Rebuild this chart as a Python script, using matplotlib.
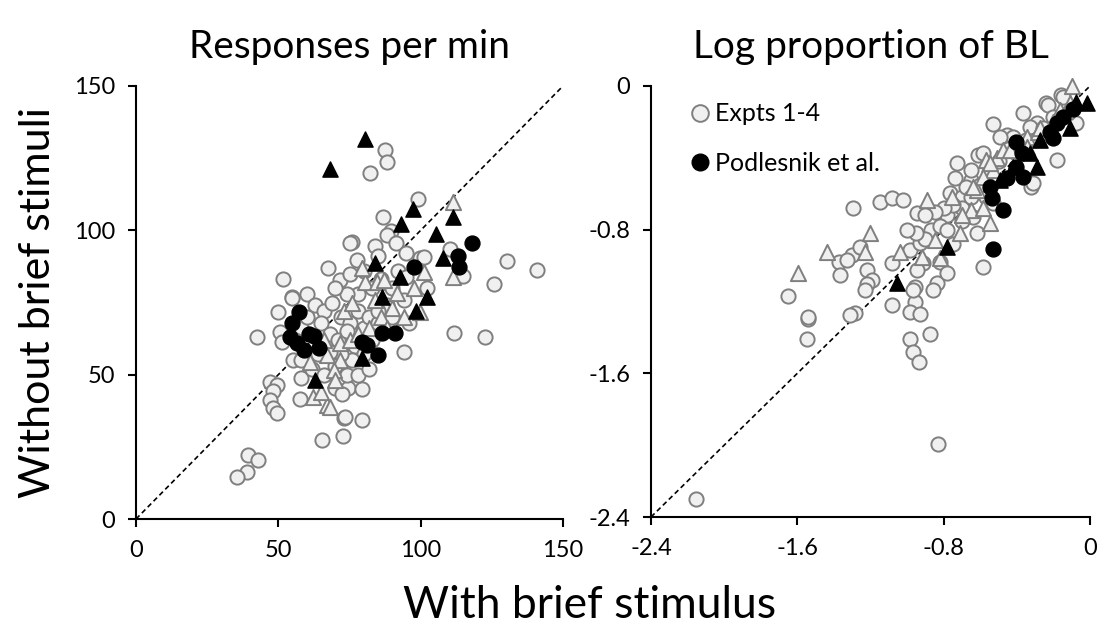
import matplotlib
matplotlib.use("Agg")
import matplotlib.pyplot as plt
from matplotlib.lines import Line2D

plt.rcParams['font.family'] = ['Lato', 'DejaVu Sans']

# ---------------- Left panel: responses per min ----------------
left_gray_circles_x = [87.5, 88.3, 82.2, 98.9, 86.9, 89.5, 88.3, 91.4, 75.8, 75.2, 84, 110.4, 99.8, 101, 130.3, 140.8,
                       115, 125.9, 102.4, 77.6, 51.8, 67.4, 71.5, 54.7, 88.1, 111.8, 122.7, 94.2, 70, 74.6, 79.3, 72.3,
                       73.1, 79.5, 72.6, 65.3, 42.4, 50, 54.7, 50.6, 51.2, 47.1, 49.5, 48, 47.1, 48.3, 49.5, 39.5, 42.9,
                       38.9, 35.4, 57.9, 57.6, 73.5,
                       60, 63, 66, 69, 72, 75, 78, 80, 82, 85, 88, 90, 92, 95, 83, 86, 78, 74, 70, 65, 68, 71, 74, 77,
                       80, 83, 76, 72, 68, 64, 62, 66, 70, 74, 78, 82, 58, 56, 60, 55, 58, 85, 90, 94, 96, 75, 80, 85, 95]
left_gray_circles_y = [128, 123.5, 120, 111, 104.7, 99.6, 98.4, 95.5, 95.8, 95.7, 94.7, 93.5, 90.3, 90.9, 89.5, 86.2,
                       84.2, 81.4, 79.9, 89.7, 83, 86.8, 82.8, 77, 71.2, 64.6, 63.1, 58, 45.3, 45.3, 44.9, 43.3,
                       35.1, 34.3, 28.9, 27.5, 63.1, 71.8, 76.4, 64.9, 61.4, 47.6, 46.4, 44.4, 41.2, 38.3, 36.6, 22.2, 20.4,
                       16.4, 14.6, 48.7, 41.7, 35.4,
                       78, 74, 72, 75, 70, 68, 72, 66, 70, 68, 74, 80, 86, 84, 80, 83, 78, 78, 80, 68, 64, 62, 65, 60,
                       57, 62, 55, 57, 58, 57, 52, 50, 53, 50, 50, 52, 66, 62, 70, 55, 55, 72, 70, 76, 68, 85, 86, 91, 92]
left_gray_tri_x = [111.3, 101.3, 111.2, 97.5, 99.8, 62.1, 67.2, 68.2, 80.5, 84.6, 87, 79.3, 91.6, 71.5, 71.5, 69.4,
                   61.2, 67, 75, 78, 82, 86, 88, 73, 76, 84, 90, 66, 94, 65, 70]
left_gray_tri_y = [109.9, 85.7, 83.9, 79.9, 71.8, 42.4, 39.5, 38.9, 82.2, 82.2, 82.8, 86.8, 78.2, 60.8, 55.1, 51.6,
                   54.5, 56.8, 62, 64, 66, 70, 66, 72, 75, 76, 73, 62, 70, 44, 48]
left_black_circles_x = [118, 113, 113.6, 97.6, 86.4, 91, 79.3, 81.3, 85, 57.4, 54.9, 54.1, 56.5, 59.1, 60.6, 62.5, 64.4]
left_black_circles_y = [95.5, 91, 87.2, 87.2, 64.5, 64.3, 61.4, 60.3, 56.8, 71.8, 67.8, 63.1, 60.8, 58.5, 64.2, 63.5, 59.4]
left_black_tri_x = [68.2, 80.5, 97.2, 111.3, 93.1, 105.4, 108, 84, 92.8, 86.4, 102.2, 98.4, 79.5, 62.9]
left_black_tri_y = [121.2, 131.8, 107.3, 104.7, 102.2, 98.7, 90.3, 88.8, 83.7, 77, 76.8, 72.2, 55.7, 48.1]
left_ticks = [0, 50, 100, 150]

# ---------------- Right panel: log proportion of BL ----------------
right_gray_circles_x = [-2.154, -1.65, -1.544, -1.549, -1.54, -1.371, -1.367, -1.303, -1.294, -1.285, -1.313, -1.33,
                        -1.258, -1.221, -1.194, -1.22, -1.23, -1.149, -1.085, -1.021, -1.085, -1.085, -0.985, -0.912,
                        -0.948, -0.957, -0.93, -0.948, -0.839, -0.821, -0.784, -0.784, -0.957, -0.985, -0.93, -0.872,
                        -0.985, -0.97, -0.934, -0.83, -0.97, -0.86, -0.766, -0.702, -0.739, -0.729, -0.648, -0.639,
                        -0.62, -0.584, -0.611, -0.53, -0.584, -0.648, -0.566, -0.53, -0.456, -0.42, -0.493, -0.369,
                        -0.292, -0.329, -0.256, -0.32, -0.311, -0.183, -0.238, -0.229, -0.156, -0.147, -0.074, -0.2,
                        -0.12, -0.45, -0.5, -0.55, -0.6, -0.68, -0.7, -0.75, -0.8, -0.85, -0.9, -0.87, -0.82, -0.78,
                        -0.9, -0.95, -1.0, -0.75, -0.7, -0.65, -0.4, -0.35, -0.3, -0.26]
right_gray_circles_y = [-2.3, -1.169, -1.297, -1.409, -1.284, -0.978, -1.052, -0.941, -0.681, -1.266, -1.275, -0.969,
                        -0.895, -1.025, -1.08, -1.10, -1.136, -0.644, -0.625, -0.635, -0.987, -1.219, -0.913, -0.987,
                        -1.025, -1.117, -0.876, -0.709, -1.099, -0.978, -1.043, -0.718, -1.201, -1.257, -1.27, -1.381,
                        -1.411, -1.479, -1.535, -1.995, -1.136, -1.136, -0.597, -0.616, -0.514, -0.43, -0.523, -0.728,
                        -0.82, -1.006, -0.384, -0.21, -0.375, -0.468, -0.616, -0.653, -0.273, -0.282, -0.282, -0.152,
                        -0.208, -0.226, -0.236, -0.561, -0.542, -0.412, -0.096, -0.106, -0.05, -0.06, -0.208, -0.17,
                        -0.15, -0.35, -0.42, -0.48, -0.55, -0.56, -0.68, -0.66, -0.68, -0.7, -0.72, -0.8, -0.78, -0.8,
                        -0.85, -0.82, -0.8, -0.88, -0.75, -0.62, -0.38, -0.3, -0.3, -0.28]
right_gray_tri_x = [-0.096, -1.44, -1.595, -1.203, -1.231, -0.893, -0.757, -0.648, -0.584, -0.548, -0.712, -0.848,
                    -1.039, -0.821, -0.566, -0.511, -0.53, -0.475, -0.62, -0.347, -0.283, -0.274, -0.165, -0.11,
                    -0.347, -0.438, -0.548, -0.584, -0.639, -0.92, -0.7, -0.2]
right_gray_tri_y = [0.0, -0.922, -1.043, -0.82, -0.922, -0.635, -0.616, -0.69, -0.681, -0.764, -0.82, -0.857,
                    -0.922, -0.959, -0.412, -0.403, -0.468, -0.356, -0.579, -0.282, -0.254, -0.236, -0.134, -0.096,
                    -0.338, -0.356, -0.43, -0.505, -0.561, -0.95, -0.72, -0.2]
right_black_circles_x = [-0.147, -0.092, -0.183, -0.22, -0.202, -0.402, -0.374, -0.402, -0.456, -0.548, -0.538,
                         -0.475, -0.53, -0.365]
right_black_circles_y = [-0.171, -0.13, -0.208, -0.254, -0.291, -0.31, -0.375, -0.449, -0.514, -0.561, -0.625,
                         -0.69, -0.909, -0.505]
right_black_tri_x = [-0.019, -0.074, -0.11, -0.274, -0.292, -0.42, -0.784, -1.057, -0.329, -0.493]
right_black_tri_y = [-0.096, -0.087, -0.236, -0.3, -0.449, -0.449, -0.895, -1.099, -0.375, -0.523]
right_ticks = [-2.4, -1.6, -0.8, 0]
right_tick_labels = ['-2.4', '-1.6', '-0.8', '0']

titles = ["Responses per min", "Log proportion of BL"]
xlabel = "With brief stimulus"
ylabel = "Without brief stimuli"
legend_labels = ["Expts 1-4", "Podlesnik et al."]

GRAY_FACE = '#f0f0f0'
GRAY_EDGE = '#7f7f7f'

fig = plt.figure(figsize=(11.02, 6.37), dpi=100)
axL = fig.add_axes([136/1102, 1-519/637, (563-136)/1102, (519-86)/637])
axR = fig.add_axes([651/1102, 1-517/637, (1090-651)/1102, (517-86)/637])


def draw(ax, gcx, gcy, gtx, gty, bcx, bcy, btx, bty, lim, ticks, labels, title):
    ax.plot([lim[0], lim[1]], [lim[0], lim[1]], ls=(0, (3, 2)), color='black', lw=1.2, zorder=1)
    ax.scatter(gcx, gcy, s=105, marker='o', facecolor=GRAY_FACE, edgecolor=GRAY_EDGE, linewidth=1.4,
               zorder=2, clip_on=False)
    ax.scatter(gtx, gty, s=120, marker='^', facecolor=GRAY_FACE, edgecolor=GRAY_EDGE, linewidth=1.4,
               zorder=3, clip_on=False)
    ax.scatter(bcx, bcy, s=115, marker='o', facecolor='black', edgecolor='black', linewidth=1.0,
               zorder=4, clip_on=False)
    ax.scatter(btx, bty, s=120, marker='^', facecolor='black', edgecolor='black', linewidth=1.0,
               zorder=5, clip_on=False)
    ax.set_xlim(lim)
    ax.set_ylim(lim)
    ax.set_xticks(ticks)
    ax.set_yticks(ticks)
    ax.set_xticklabels(labels)
    ax.set_yticklabels(labels)
    for s in ['top', 'right']:
        ax.spines[s].set_visible(False)
    for s in ['left', 'bottom']:
        ax.spines[s].set_linewidth(1.5)
    ax.tick_params(direction='out', length=6, width=1.5, labelsize=17)
    ax.tick_params(axis='x', pad=9)
    ax.tick_params(axis='y', pad=9)
    ax.set_title(title, fontsize=28, pad=20)


draw(axL, left_gray_circles_x, left_gray_circles_y, left_gray_tri_x, left_gray_tri_y,
     left_black_circles_x, left_black_circles_y, left_black_tri_x, left_black_tri_y,
     (0, 150), left_ticks, [str(t) for t in left_ticks], titles[0])
draw(axR, right_gray_circles_x, right_gray_circles_y, right_gray_tri_x, right_gray_tri_y,
     right_black_circles_x, right_black_circles_y, right_black_tri_x, right_black_tri_y,
     (-2.4, 0), right_ticks, right_tick_labels, titles[1])

handles = [Line2D([], [], ls='none', marker='o', markersize=12, markerfacecolor=GRAY_FACE,
                  markeredgecolor=GRAY_EDGE, markeredgewidth=1.4),
           Line2D([], [], ls='none', marker='o', markersize=12, markerfacecolor='black',
                  markeredgecolor='black')]
axR.legend(handles, legend_labels, loc='upper left', bbox_to_anchor=(0.06, 0.985), frameon=False,
           fontsize=18, handletextpad=0.1, labelspacing=1.05, handlelength=1.0, borderaxespad=0)

fig.text(590/1102, 1-605/637, xlabel, ha='center', va='center', fontsize=32)
fig.text(38/1102, 1-302/637, ylabel, ha='center', va='center', rotation=90, fontsize=31)

fig.savefig('out.png', dpi=100)
